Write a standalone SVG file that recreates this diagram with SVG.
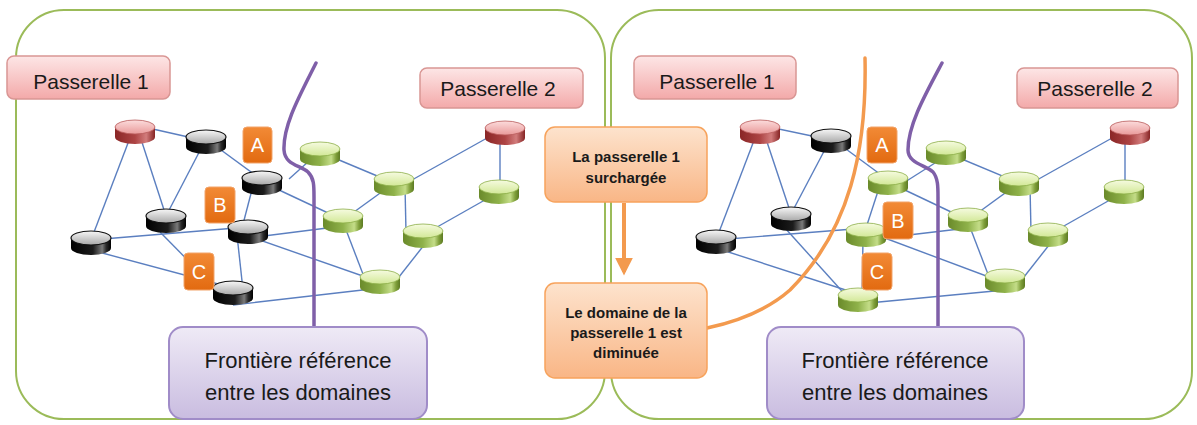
<svg xmlns="http://www.w3.org/2000/svg" xmlns:xlink="http://www.w3.org/1999/xlink" width="1197" height="425" viewBox="0 0 1197 425">
<defs>
<style>
.panel{fill:#ffffff;stroke:#9bbb59;stroke-width:2}
.pas{fill:url(#gPink);stroke:#d99694;stroke-width:1.5}
.pasT{font-family:"Liberation Sans",Arial,sans-serif;font-size:21px;fill:#1a1a1a;text-anchor:middle}
.lab{fill:url(#gOrangeDark);stroke:#f2a46a;stroke-width:1}
.labT{font-family:"Liberation Sans",Arial,sans-serif;font-size:20px;fill:#ffffff;text-anchor:middle}
.pur{fill:url(#gPurple);stroke:#a08cc8;stroke-width:2}
.purT{font-family:"Liberation Sans",Arial,sans-serif;font-size:22px;fill:#1a1a1a;text-anchor:middle}
.mid{fill:url(#gOrangeLight);stroke:#f7a35c;stroke-width:1.5}
.midT{font-family:"Liberation Sans",Arial,sans-serif;font-size:15px;font-weight:bold;fill:#1a1a1a;text-anchor:middle}
.edges line{stroke:#5b7fc0;stroke-width:1.4}
.bound{fill:none;stroke:#7f5fa8;stroke-width:3.5;stroke-linecap:round}
.obound{fill:none;stroke:#f39a4e;stroke-width:3.5;stroke-linecap:round}
</style>
<linearGradient id="gPink" x1="0" y1="0" x2="0" y2="1"><stop offset="0" stop-color="#fde6e6"/><stop offset="1" stop-color="#f3a9a9"/></linearGradient>
<linearGradient id="gOrangeDark" x1="0" y1="0" x2="0" y2="1"><stop offset="0" stop-color="#f28a36"/><stop offset="1" stop-color="#e26a10"/></linearGradient>
<linearGradient id="gOrangeLight" x1="0" y1="0" x2="0" y2="1"><stop offset="0" stop-color="#fde3cd"/><stop offset="1" stop-color="#f9b686"/></linearGradient>
<linearGradient id="gPurple" x1="0" y1="0" x2="0" y2="1"><stop offset="0" stop-color="#efeaf6"/><stop offset="1" stop-color="#c9bce0"/></linearGradient>
<linearGradient id="kTop" x1="0" y1="0" x2="0" y2="1"><stop offset="0" stop-color="#f7f7f7"/><stop offset="1" stop-color="#a8a8a8"/></linearGradient>
<linearGradient id="kBody" x1="0" y1="0" x2="1" y2="0"><stop offset="0" stop-color="#000"/><stop offset="0.55" stop-color="#1c1c1c"/><stop offset="0.78" stop-color="#7a7a7a"/><stop offset="0.88" stop-color="#2a2a2a"/><stop offset="1" stop-color="#000"/></linearGradient>
<linearGradient id="gTop" x1="0" y1="0" x2="0" y2="1"><stop offset="0" stop-color="#f6fbe0"/><stop offset="1" stop-color="#d2e897"/></linearGradient>
<linearGradient id="gBody" x1="0" y1="0" x2="1" y2="0"><stop offset="0" stop-color="#6a8a2a"/><stop offset="0.5" stop-color="#8fb24a"/><stop offset="0.78" stop-color="#c4dd88"/><stop offset="0.9" stop-color="#7f9f3a"/><stop offset="1" stop-color="#5c7a22"/></linearGradient>
<linearGradient id="rTop" x1="0" y1="0" x2="0" y2="1"><stop offset="0" stop-color="#fcdcdc"/><stop offset="1" stop-color="#e99a9a"/></linearGradient>
<linearGradient id="rBody" x1="0" y1="0" x2="1" y2="0"><stop offset="0" stop-color="#8a2626"/><stop offset="0.5" stop-color="#ad4444"/><stop offset="0.78" stop-color="#d27c7c"/><stop offset="1" stop-color="#862424"/></linearGradient>
<g id="cylK"><path d="M-20,0 V10 A20,7 0 0 0 20,10 V0 Z" fill="url(#kBody)"/><ellipse cx="0" cy="0" rx="20" ry="7" fill="url(#kTop)" stroke="#111" stroke-width="1.2"/></g>
<g id="cylG"><path d="M-20,0 V10 A20,7 0 0 0 20,10 V0 Z" fill="url(#gBody)"/><ellipse cx="0" cy="0" rx="20" ry="7" fill="url(#gTop)" stroke="#8cad48" stroke-width="0.8"/></g>
<g id="cylR"><path d="M-20,0 V10 A20,7 0 0 0 20,10 V0 Z" fill="url(#rBody)"/><ellipse cx="0" cy="0" rx="20" ry="7" fill="url(#rTop)" stroke="#b85a5a" stroke-width="0.8"/></g>
<marker id="arr" viewBox="0 0 10 10" refX="8" refY="5" markerWidth="4.5" markerHeight="4.5" orient="auto"><path d="M0,0 L10,5 L0,10 Z" fill="#f39a4e"/></marker>
</defs>

<rect x="0" y="0" width="1197" height="425" fill="#ffffff"/>

<g id="panel-left"><rect class="panel" x="16" y="10" width="589" height="409" rx="48"/></g>
<g id="panel-right"><rect class="panel" x="611" y="10" width="581" height="409" rx="48"/></g>

<g id="connectors">
<g class="edges">
<line x1="135" y1="125" x2="206" y2="141"/>
<line x1="133" y1="130" x2="91" y2="240"/>
<line x1="138" y1="130" x2="166" y2="216"/>
<line x1="206" y1="139" x2="166" y2="216"/>
<line x1="206" y1="139" x2="262" y2="180"/>
<line x1="289" y1="179" x2="309" y2="161"/>
<line x1="262" y1="182" x2="343" y2="220"/>
<line x1="254" y1="182" x2="242" y2="228"/>
<line x1="91" y1="240" x2="248" y2="227"/>
<line x1="248" y1="238" x2="343" y2="226"/>
<line x1="248" y1="236" x2="380" y2="282"/>
<line x1="237" y1="235" x2="243" y2="290"/>
<line x1="160" y1="232" x2="222" y2="295"/>
<line x1="91" y1="250" x2="233" y2="288"/>
<line x1="233" y1="305" x2="380" y2="288"/>
<line x1="320" y1="152" x2="394" y2="183"/>
<line x1="394" y1="183" x2="343" y2="220"/>
<line x1="405" y1="186" x2="406" y2="232"/>
<line x1="394" y1="190" x2="505" y2="128"/>
<line x1="343" y1="222" x2="366" y2="282"/>
<line x1="428" y1="240" x2="395" y2="282"/>
<line x1="423" y1="235" x2="499" y2="192"/>
<line x1="500" y1="130" x2="500" y2="190"/>

<line x1="760" y1="125" x2="831" y2="140"/>
<line x1="758" y1="130" x2="716" y2="240"/>
<line x1="763" y1="130" x2="791" y2="214"/>
<line x1="831" y1="138" x2="791" y2="214"/>
<line x1="831" y1="138" x2="888" y2="180"/>
<line x1="905" y1="182" x2="935" y2="163"/>
<line x1="888" y1="182" x2="968" y2="220"/>
<line x1="880" y1="185" x2="866" y2="228"/>
<line x1="716" y1="240" x2="866" y2="228"/>
<line x1="866" y1="240" x2="968" y2="228"/>
<line x1="866" y1="231" x2="1005" y2="283"/>
<line x1="863" y1="240" x2="862" y2="296"/>
<line x1="785" y1="228" x2="850" y2="300"/>
<line x1="716" y1="248" x2="858" y2="294"/>
<line x1="858" y1="304" x2="1005" y2="290"/>
<line x1="945" y1="152" x2="1019" y2="183"/>
<line x1="1019" y1="183" x2="968" y2="220"/>
<line x1="1030" y1="186" x2="1031" y2="232"/>
<line x1="1019" y1="190" x2="1130" y2="128"/>
<line x1="968" y1="222" x2="991" y2="282"/>
<line x1="1053" y1="240" x2="1020" y2="282"/>
<line x1="1048" y1="235" x2="1124" y2="192"/>
<line x1="1125" y1="130" x2="1125" y2="190"/>
</g>
<line x1="624" y1="203" x2="624" y2="272" stroke="#f39a4e" stroke-width="4" marker-end="url(#arr)"/>
<path class="bound" d="M316,63 C300,95 283,125 284,150 C285,165 300,165 308,172 C314,178 314,185 314,197 L314,328"/>
<path class="bound" d="M942,63 C925,95 908,125 908,150 C908,163 925,165 933,172 C938,178 938,187 938,197 L938,328"/>
<path class="obound" d="M865,58 C867,150 850,230 790,290 C765,312 735,322 707,328"/>
</g>

<g id="node-left-r1"><use href="#cylR" x="135" y="127"/></g>
<g id="node-left-k1"><use href="#cylK" x="206" y="137"/></g>
<g id="node-left-k2"><use href="#cylK" x="262" y="178"/></g>
<g id="node-left-k3"><use href="#cylK" x="166" y="216"/></g>
<g id="node-left-k4"><use href="#cylK" x="248" y="227"/></g>
<g id="node-left-k5"><use href="#cylK" x="91" y="238"/></g>
<g id="node-left-k6"><use href="#cylK" x="233" y="288"/></g>
<g id="node-left-g1"><use href="#cylG" x="320" y="149"/></g>
<g id="node-left-g2"><use href="#cylG" x="394" y="179"/></g>
<g id="node-left-g3"><use href="#cylG" x="343" y="216"/></g>
<g id="node-left-g4"><use href="#cylG" x="423" y="231"/></g>
<g id="node-left-g5"><use href="#cylG" x="380" y="277"/></g>
<g id="node-left-g6"><use href="#cylG" x="499" y="187"/></g>
<g id="node-left-r2"><use href="#cylR" x="505" y="128"/></g>

<g id="node-right-r1"><use href="#cylR" x="760" y="127"/></g>
<g id="node-right-k1"><use href="#cylK" x="831" y="136"/></g>
<g id="node-right-a"><use href="#cylG" x="888" y="178"/></g>
<g id="node-right-k3"><use href="#cylK" x="791" y="214"/></g>
<g id="node-right-k5"><use href="#cylK" x="716" y="237"/></g>
<g id="node-right-b"><use href="#cylG" x="866" y="230"/></g>
<g id="node-right-c"><use href="#cylG" x="858" y="295"/></g>
<g id="node-right-g1"><use href="#cylG" x="946" y="148"/></g>
<g id="node-right-g2"><use href="#cylG" x="1019" y="179"/></g>
<g id="node-right-g3"><use href="#cylG" x="968" y="215"/></g>
<g id="node-right-g4"><use href="#cylG" x="1048" y="230"/></g>
<g id="node-right-g5"><use href="#cylG" x="1005" y="276"/></g>
<g id="node-right-g6"><use href="#cylG" x="1124" y="187"/></g>
<g id="node-right-r2"><use href="#cylR" x="1130" y="128"/></g>

<g id="label-left-a"><rect class="lab" x="243" y="127" width="29" height="36" rx="4"/><text class="labT" x="257.5" y="152">A</text></g>
<g id="label-left-b"><rect class="lab" x="205" y="187" width="30" height="36" rx="4"/><text class="labT" x="220" y="212">B</text></g>
<g id="label-left-c"><rect class="lab" x="184" y="253" width="30" height="37" rx="4"/><text class="labT" x="199" y="279">C</text></g>
<g id="label-right-a"><rect class="lab" x="867" y="127" width="30" height="36" rx="4"/><text class="labT" x="882" y="152">A</text></g>
<g id="label-right-b"><rect class="lab" x="883" y="202" width="30" height="37" rx="4"/><text class="labT" x="898" y="228">B</text></g>
<g id="label-right-c"><rect class="lab" x="862" y="253" width="30" height="37" rx="4"/><text class="labT" x="877" y="279">C</text></g>

<g id="pas-left-1"><rect class="pas" x="7" y="56" width="163" height="43" rx="7"/><text class="pasT" x="91" y="89">Passerelle 1</text></g>
<g id="pas-left-2"><rect class="pas" x="420" y="68" width="163" height="40" rx="7"/><text class="pasT" x="498" y="96">Passerelle 2</text></g>
<g id="pas-right-1"><rect class="pas" x="634" y="56" width="162" height="43" rx="7"/><text class="pasT" x="717" y="89">Passerelle 1</text></g>
<g id="pas-right-2"><rect class="pas" x="1017" y="68" width="161" height="40" rx="7"/><text class="pasT" x="1095" y="96">Passerelle 2</text></g>

<g id="frontier-left"><rect class="pur" x="169" y="327" width="258" height="92" rx="14"/><text class="purT" x="298" y="368">Frontière référence</text><text class="purT" x="298" y="400">entre les domaines</text></g>
<g id="frontier-right"><rect class="pur" x="767" y="327" width="257" height="92" rx="14"/><text class="purT" x="895" y="368">Frontière référence</text><text class="purT" x="895" y="400">entre les domaines</text></g>

<g id="box-overload"><rect class="mid" x="545" y="127" width="162" height="75" rx="10"/><text class="midT" x="626" y="162">La passerelle 1</text><text class="midT" x="626" y="183">surchargée</text></g>
<g id="box-reduced"><rect class="mid" x="545" y="283" width="162" height="95" rx="10"/><text class="midT" x="626" y="318">Le domaine de la</text><text class="midT" x="626" y="338">passerelle 1 est</text><text class="midT" x="626" y="358">diminuée</text></g>
</svg>
